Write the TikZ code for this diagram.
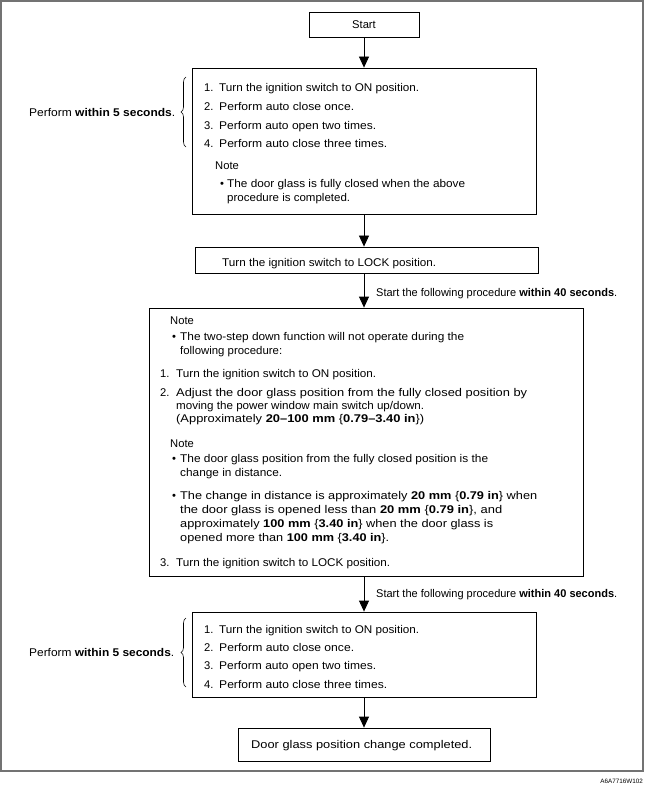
\documentclass[tikz,border=0pt]{standalone}
\usepackage{fontspec}
\usepackage{graphicx}
\setmainfont{Liberation Sans}
\usetikzlibrary{arrows.meta,decorations.pathreplacing}
\newcommand\fs{\fontsize{11.2}{13}\selectfont}
\newcommand\nitem[2][15pt]{\makebox[#1][l]{#2}}
\newcommand\bul[1][7pt]{\makebox[#1][l]{•}}
\newcommand\fitw[2]{\resizebox{#1pt}{\height}{#2}}
\begin{document}
\begin{tikzpicture}[x=1pt,y=-1pt,
  box/.style={draw=black, line width=0.8pt, inner sep=0pt, font=\fs},
  txt/.style={anchor=base west, inner sep=0pt, font=\fs},
  arr/.style={-{Triangle[width=10pt,length=11pt]}, line width=0.8pt},
  brc/.style={decorate, decoration={brace, amplitude=5pt}, line width=0.6pt}]
\useasboundingbox (0,0) rectangle (645,791);
\draw[black!55, line width=1.3pt] (1,1) rectangle (643,771);

% boxes
\node[box, minimum width=110pt, minimum height=25pt] (start) at (364,24.5) {Start};
\node[box, minimum width=344pt, minimum height=146pt] (b1) at (364,141) {};
\node[box, minimum width=343pt, minimum height=26pt] (b2) at (366.5,260) {};
\node[box, minimum width=434pt, minimum height=268pt] (b3) at (366,442) {};
\node[box, minimum width=344pt, minimum height=85pt] (b4) at (364,654.5) {};
\node[box, minimum width=252pt, minimum height=33pt] (b5) at (364,744.5) {};

% arrows
\draw[arr] (start.south) -- (b1.north);
\draw[arr] (b1.south) -- (b1.south |- b2.north);
\draw[arr] (b1.south |- b2.south) -- (b1.south |- b3.north);
\draw[arr] (b1.south |- b3.south) -- (b4.north);
\draw[arr] (b4.south) -- (b5.north);

% box 1
\node[txt] (a1) at (204,92) {\nitem{1.}\fitw{200}{Turn the ignition switch to ON position.}};
\node[txt] (a2) at (204,110.5) {\nitem{2.}\fitw{135}{Perform auto close once.}};
\node[txt] (a3) at (204,129.5) {\nitem{3.}\fitw{157}{Perform auto open two times.}};
\node[txt] (a4) at (204,148) {\nitem{4.}\fitw{168}{Perform auto close three times.}};
\node[txt] (an) at (215,170) {Note};
\node[txt] (ab1) at (220,188) {\bul\fitw{238}{The door glass is fully closed when the above}};
\node[txt] (ab2) at (227,202) {\fitw{123}{procedure is completed.}};
\node[txt] (p1) at (29,117) {\fitw{146}{Perform \textbf{within 5 seconds}.}};
\draw[brc] (186,147) -- (186,77);

% box 2
\node[txt] (l2) at (222,266) {\fitw{214}{Turn the ignition switch to LOCK position.}};
\node[txt] (s1) at (376,296) {\fitw{241}{Start the following procedure \textbf{within 40 seconds}.}};

% box 3
\node[txt] (cn1) at (170,324) {Note};
\node[txt] (cb1) at (172,340) {\bul[8pt]\fitw{284}{The two-step down function will not operate during the}};
\node[txt] (cb1b) at (180,354) {\fitw{102}{following procedure:}};
\node[txt] (c1) at (160,377) {\nitem[16pt]{1.}\fitw{200}{Turn the ignition switch to ON position.}};
\node[txt] (c2) at (160,396) {\nitem[16pt]{2.}\fitw{351}{Adjust the door glass position from the fully closed position by}};
\node[txt] (c2b) at (176,409) {\fitw{248}{moving the power window main switch up/down.}};
\node[txt] (c2c) at (176,422.5) {\fitw{248}{(Approximately \textbf{20–100 mm} \{\textbf{0.79–3.40 in}\})}};
\node[txt] (cn2) at (170,447) {Note};
\node[txt] (cb2) at (172,462) {\bul[8pt]\fitw{308}{The door glass position from the fully closed position is the}};
\node[txt] (cb2b) at (180,476) {\fitw{102}{change in distance.}};
\node[txt] (cb3) at (172,499) {\bul[8pt]\fitw{357}{The change in distance is approximately \textbf{20 mm} \{\textbf{0.79 in}\} when}};
\node[txt] (cb3b) at (180,513) {\fitw{322}{the door glass is opened less than \textbf{20 mm} \{\textbf{0.79 in}\}, and}};
\node[txt] (cb3c) at (180,527) {\fitw{313}{approximately \textbf{100 mm} \{\textbf{3.40 in}\} when the door glass is}};
\node[txt] (cb3d) at (180,541) {\fitw{209}{opened more than \textbf{100 mm} \{\textbf{3.40 in}\}.}};
\node[txt] (c3) at (160,566) {\nitem[16pt]{3.}\fitw{214}{Turn the ignition switch to LOCK position.}};
\node[txt] (s2) at (376,597) {\fitw{241}{Start the following procedure \textbf{within 40 seconds}.}};

% box 4
\node[txt] (d1) at (204,633) {\nitem{1.}\fitw{200}{Turn the ignition switch to ON position.}};
\node[txt] (d2) at (204,651) {\nitem{2.}\fitw{135}{Perform auto close once.}};
\node[txt] (d3) at (204,669.5) {\nitem{3.}\fitw{157}{Perform auto open two times.}};
\node[txt] (d4) at (204,688) {\nitem{4.}\fitw{168}{Perform auto close three times.}};
\node[txt] (p2) at (29,656) {\fitw{145}{Perform \textbf{within 5 seconds}.}};
\draw[brc] (186,687) -- (186,618);

% box 5
\node[txt] (e1) at (251,748) {\fitw{221}{Door glass position change completed.}};

% footer
\node[anchor=base east, inner sep=0pt, font=\fontsize{6.3}{7}\selectfont] (code) at (643,783) {A6A7716W102};
\end{tikzpicture}
\end{document}
